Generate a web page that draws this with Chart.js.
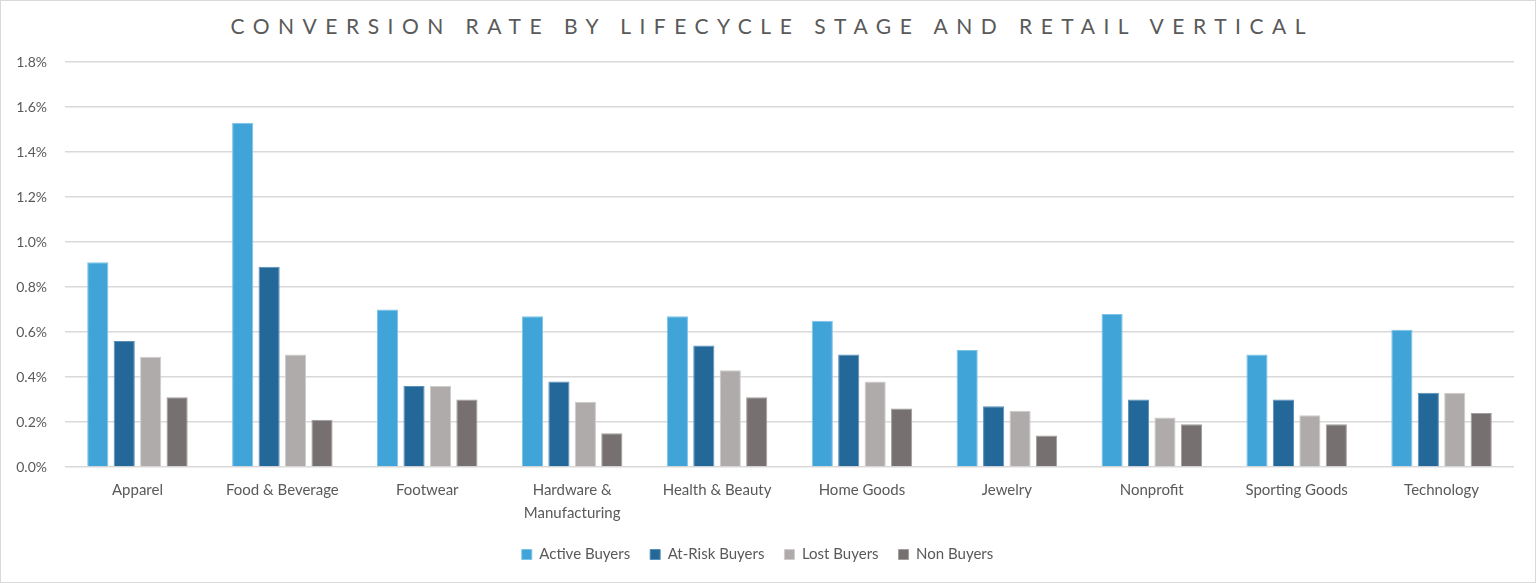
<!DOCTYPE html>
<html>
<head>
<meta charset="utf-8">
<script src="https://cdn.jsdelivr.net/npm/chart.js@4"></script>
<style>
  html, body { margin: 0; padding: 0; background: #fff; }
  #wrap {
    position: relative;
    width: 1536px; height: 583px;
    box-sizing: border-box;
    border: 1px solid #d9d9d9;
  }
  #title {
    position: absolute; left: 0; right: 0; top: 12px;
    text-align: center;
    font-family: Lato, sans-serif;
    font-size: 21px;
    letter-spacing: 8.5px;
    padding-left: 8.5px;
    color: #595959;
  }
  #chart { position: absolute; left: 0; top: 0; }
</style>
</head>
<body>
<div id="wrap">
  <div id="title">CONVERSION RATE BY LIFECYCLE STAGE AND RETAIL VERTICAL</div>
  <canvas id="chart" width="1534" height="581"></canvas>
</div>
<script>
// categories and series (conversion rate, %)
const verticals = ["Apparel", "Food & Beverage", "Footwear", ["Hardware &", "Manufacturing"],
  "Health & Beauty", "Home Goods", "Jewelry", "Nonprofit", "Sporting Goods", "Technology"];
const activeBuyers = [0.91, 1.53, 0.70, 0.67, 0.67, 0.65, 0.52, 0.68, 0.50, 0.61];
const atRiskBuyers = [0.56, 0.89, 0.36, 0.38, 0.54, 0.50, 0.27, 0.30, 0.30, 0.33];
const lostBuyers   = [0.49, 0.50, 0.36, 0.29, 0.43, 0.38, 0.25, 0.22, 0.23, 0.33];
const nonBuyers    = [0.31, 0.21, 0.30, 0.15, 0.31, 0.26, 0.14, 0.19, 0.19, 0.24];
const yTicks = [0, 0.2, 0.4, 0.6, 0.8, 1.0, 1.2, 1.4, 1.6, 1.8];

const textColor = "#595959";
const font = "Lato, sans-serif";

function series(label, data, color, edge) {
  return {
    label: label,
    data: data,
    backgroundColor: color,
    borderColor: edge,
    borderWidth: 1,
    categoryPercentage: 0.73,
    barPercentage: 0.8,
  };
}

// pull the legend a bit closer to the axis labels (keeps wide gaps between items)
const legendNudge = {
  id: "legendNudge",
  afterLayout(chart) {
    chart.legend.top -= 9;
    chart.legend.bottom -= 9;
  },
};

new Chart(document.getElementById("chart"), {
  type: "bar",
  data: {
    labels: verticals,
    datasets: [
      series("Active Buyers", activeBuyers, "#41a4d8", "#7cc3e8"),
      series("At-Risk Buyers", atRiskBuyers, "#236899", "#5a8fb8"),
      series("Lost Buyers", lostBuyers, "#afabaa", "#cfcccb"),
      series("Non Buyers", nonBuyers, "#767170", "#a19d9c"),
    ],
  },
  options: {
    responsive: false,
    animation: false,
    layout: { padding: { top: 61, left: 0, right: 21, bottom: 1 } },
    plugins: {
      title: { display: false },
      tooltip: { enabled: false },
      legend: {
        position: "bottom",
        labels: {
          color: textColor,
          font: { family: font, size: 15 },
          boxWidth: 10,
          boxHeight: 10,
          padding: 20,
        },
      },
    },
    scales: {
      x: {
        grid: { display: false, drawTicks: false },
        border: { display: false },
        ticks: {
          color: textColor,
          font: { family: font, size: 15, lineHeight: 1.5 },
          padding: 12,
          maxRotation: 0,
          autoSkip: false,
        },
      },
      y: {
        min: 0,
        max: 1.8,
        afterBuildTicks: (axis) => { axis.ticks = yTicks.map((v) => ({ value: v })); },
        afterFit: (axis) => { axis.width = 64; },
        grid: { color: "#d9d9d9", lineWidth: 1.5, drawTicks: false },
        border: { display: false },
        ticks: {
          color: textColor,
          font: { family: font, size: 14 },
          padding: 18,
          callback: (v) => v.toFixed(1) + "%",
        },
      },
    },
  },
  plugins: [legendNudge],
});
</script>
</body>
</html>
